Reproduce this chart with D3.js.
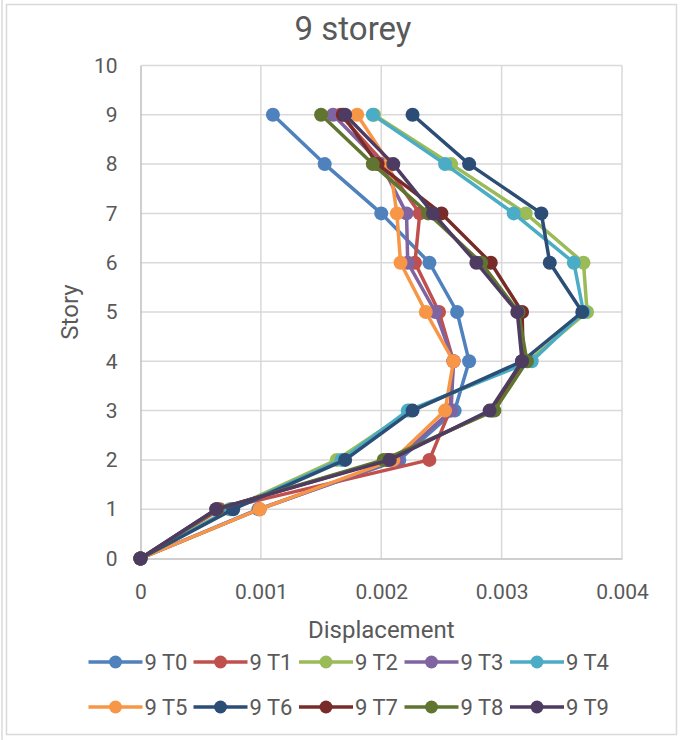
<!DOCTYPE html>
<html><head><meta charset="utf-8">
<script src="https://cdn.jsdelivr.net/npm/d3@7"></script>
<style>html,body{margin:0;padding:0;background:#fff;}svg{display:block;font-family:Roboto,"Open Sans",sans-serif;}</style>
</head><body><svg id="c" width="684" height="740"></svg>
<script>
const stories = [0,1,2,3,4,5,6,7,8,9];
const seriesNames = ["9 T0","9 T1","9 T2","9 T3","9 T4","9 T5","9 T6","9 T7","9 T8","9 T9"];
const colors = ["#4F81BD","#C0504D","#9BBB59","#8064A2","#4BACC6","#F79646","#2C4D75","#772C2A","#5F7530","#4D3B62"];
const T0 = [0,0.00098,0.00215,0.00261,0.00273,0.00263,0.0024,0.002,0.00153,0.0011];
const T1 = [0,0.00066,0.0024,0.00257,0.0026,0.00248,0.00228,0.00232,0.00203,0.00166];
const T2 = [0,0.00074,0.00163,0.00224,0.00322,0.00371,0.00368,0.0032,0.00258,0.00194];
const T3 = [0,0.00099,0.00213,0.00258,0.0026,0.00245,0.00222,0.00221,0.002,0.0016];
const T4 = [0,0.00075,0.00167,0.00222,0.00325,0.00368,0.0036,0.0031,0.00253,0.00193];
const T5 = [0,0.00099,0.0021,0.00253,0.0026,0.00237,0.00216,0.00213,0.00207,0.0018];
const T6 = [0,0.00077,0.0017,0.00226,0.00317,0.00367,0.0034,0.00333,0.00273,0.00226];
const T7 = [0,0.00063,0.00205,0.00292,0.00318,0.00317,0.00291,0.0025,0.00197,0.00168];
const T8 = [0,0.00064,0.00202,0.00294,0.00321,0.00314,0.00283,0.00239,0.00193,0.0015];
const T9 = [0,0.00063,0.00207,0.0029,0.00317,0.00313,0.00279,0.00243,0.0021,0.0017];
const xTicks = [0,0.001,0.002,0.003,0.004];
const yTicks = [0,1,2,3,4,5,6,7,8,9,10];
const title = "9 storey", xTitle = "Displacement", yTitle = "Story";

const allSeries = [T0,T1,T2,T3,T4,T5,T6,T7,T8,T9];
const svg = d3.select("#c");
const L = 140.5, R = 622, T = 65.5, B = 558.5;
const x = d3.scaleLinear().domain([0,0.004]).range([L,R]);
const y = d3.scaleLinear().domain([0,10]).range([B,T]);

// chart border
svg.append("rect").attr("x",1).attr("y",-2).attr("width",2).attr("height",744).attr("fill","#e3e3e3");
svg.append("rect").attr("x",6.5).attr("y",4.5).attr("width",670).attr("height",730)
  .attr("fill","#fff").attr("stroke","#d9d9d9").attr("stroke-width",1.5);

// gridlines
svg.append("g").selectAll("line").data(yTicks.slice(1)).join("line")
  .attr("x1",L).attr("x2",R).attr("y1",d=>y(d)).attr("y2",d=>y(d))
  .attr("stroke","#d9d9d9").attr("stroke-width",1.5);
svg.append("g").selectAll("line").data(xTicks.slice(1)).join("line")
  .attr("y1",T).attr("y2",B).attr("x1",d=>x(d)).attr("x2",d=>x(d))
  .attr("stroke","#d9d9d9").attr("stroke-width",1.5);

// axes
const xa = svg.append("g").attr("transform",`translate(0,${B})`)
  .call(d3.axisBottom(x).tickValues(xTicks).tickSize(0).tickPadding(0).tickFormat(d=>d===0?"0":d3.format(".3f")(d)));
xa.select(".domain").attr("stroke","#bfbfbf").attr("stroke-width",1.5);
xa.selectAll("text").attr("font-size",21).attr("fill","#595959").attr("font-family","Roboto")
  .attr("dy",null).attr("y",40.5);
const ya = svg.append("g").attr("transform",`translate(${L},0)`)
  .call(d3.axisLeft(y).tickValues(yTicks).tickSize(0).tickPadding(23));
ya.select(".domain").attr("stroke","#bfbfbf").attr("stroke-width",1.5);
ya.selectAll("text").attr("font-size",21).attr("fill","#595959").attr("font-family","Roboto");

// series
const line = d3.line().x(d=>x(d[0])).y(d=>y(d[1]));
allSeries.forEach((s,i)=>{
  const pts = s.map((v,k)=>[v,stories[k]]);
  const g = svg.append("g");
  g.append("path").attr("d",line(pts)).attr("fill","none").attr("stroke",colors[i])
    .attr("stroke-width",3.5).attr("stroke-linejoin","round").attr("stroke-linecap","round");
  g.selectAll("circle").data(pts).join("circle").attr("cx",d=>x(d[0])).attr("cy",d=>y(d[1]))
    .attr("r",7).attr("fill",colors[i]);
});

// titles
svg.append("text").attr("x",353).attr("y",40).attr("text-anchor","middle")
  .attr("font-size",33).attr("fill","#595959").text(title);
svg.append("text").attr("x",(L+R)/2).attr("y",638).attr("text-anchor","middle")
  .attr("font-size",24).attr("fill","#595959").text(xTitle);
svg.append("text").attr("transform",`translate(78,${(T+B)/2}) rotate(-90)`).attr("text-anchor","middle")
  .attr("font-size",24).attr("fill","#595959").text(yTitle);

// legend
const lx = [88.5,193.5,299,404.5,510];
const ly = [662,707];
seriesNames.forEach((n,i)=>{
  const cx = lx[i%5], cy = ly[Math.floor(i/5)];
  const g = svg.append("g");
  g.append("line").attr("x1",cx).attr("x2",cx+54).attr("y1",cy).attr("y2",cy)
    .attr("stroke",colors[i]).attr("stroke-width",3.5);
  g.append("circle").attr("cx",cx+27).attr("cy",cy).attr("r",6.5).attr("fill",colors[i]);
  g.append("text").attr("x",cx+56).attr("y",cy).attr("dy","0.36em")
    .attr("font-size",22).attr("fill","#595959").text(n);
});
</script></body></html>
